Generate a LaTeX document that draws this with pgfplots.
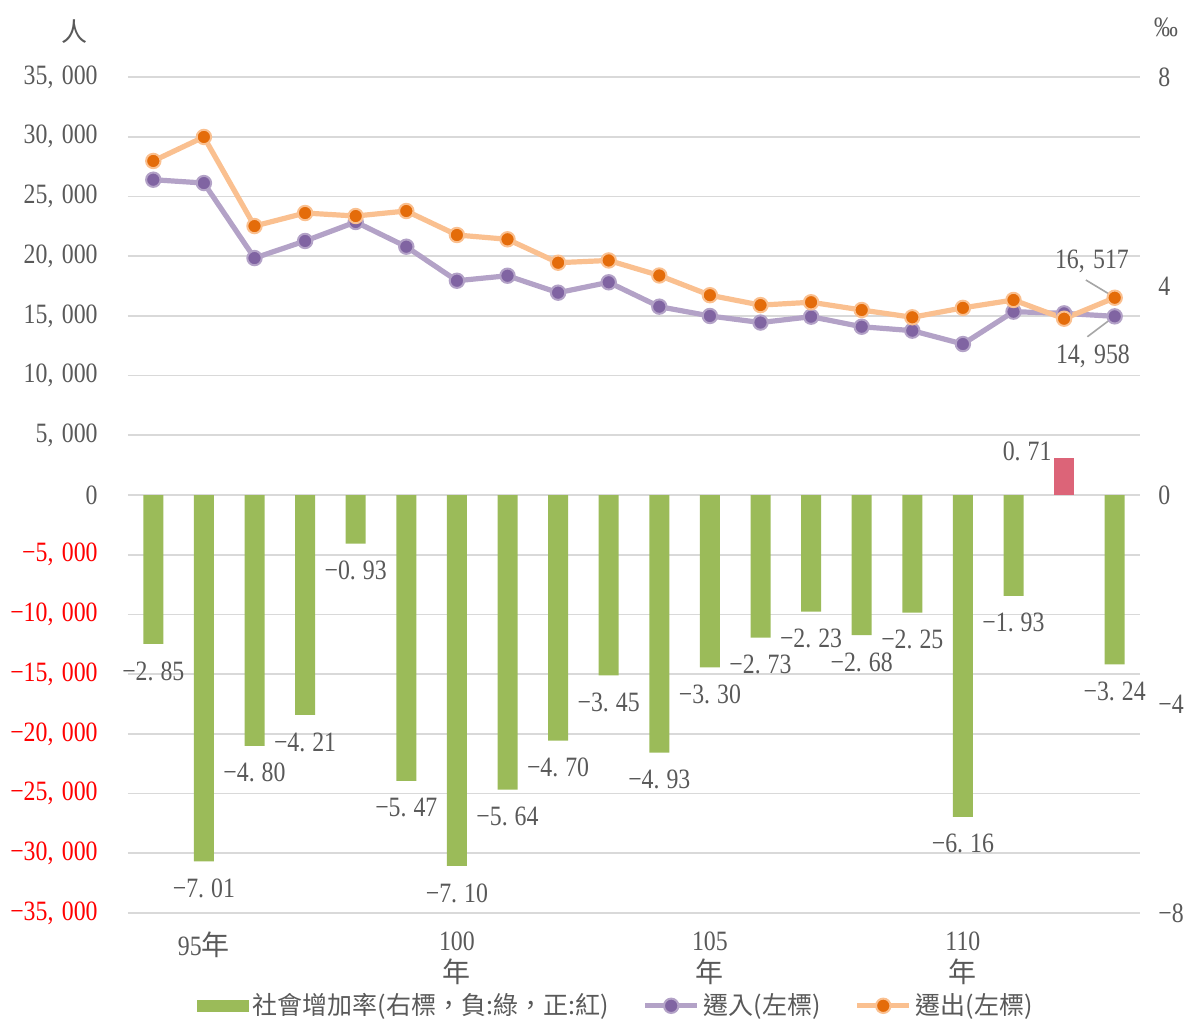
\documentclass[border=0pt]{standalone}
\usepackage{fontspec}
\setmainfont{Liberation Serif}[FakeStretch=0.85]
\newfontfamily\cjk{Noto Sans CJK TC}
\usepackage{pgfplots}
\pgfplotsset{compat=1.18}

\definecolor{txt}{HTML}{595959}
\definecolor{gridc}{HTML}{D9D9D9}
\definecolor{barg}{HTML}{9BBB59}
\definecolor{barr}{HTML}{DC6478}
\definecolor{inl}{HTML}{B3A2C7}
\definecolor{inm}{HTML}{8064A2}
\definecolor{outl}{HTML}{FAC090}
\definecolor{outm}{HTML}{E46C0A}

\newcommand{\thsep}{,\hspace{0.3em}}
\newcommand{\decsep}{.\hspace{0.25em}}
\newcommand{\negred}[1]{\textcolor{red}{−#1}}

\pgfplotsset{
  inflow/.style={color=inl, line width=2.6pt, mark=*, mark size=3.6pt,
    mark options={fill=inm, draw=inl, line width=1pt}},
  outflow/.style={color=outl, line width=2.6pt, mark=*, mark size=3.6pt,
    mark options={fill=outm, draw=outl, line width=1pt}},
  longline/.style={legend image code/.code={%
    \draw[mark repeat=2, mark phase=2, ##1] plot coordinates {(0pt,0pt) (13pt,0pt) (26pt,0pt)};}},
  barbox/.style={legend image code/.code={\fill[barg] (0pt,-3pt) rectangle (26pt,3pt);}},
}

\begin{document}
\begin{tikzpicture}
\useasboundingbox (-64pt,-52.5pt) rectangle (528pt,456.5pt);

% left axis: persons, lines and grid
\begin{axis}[
    scale only axis, width=506pt, height=418pt,
    xmin=93.5, xmax=113.5, ymin=-35000, ymax=35000,
    axis line style={draw=none}, tick style={draw=none},
    scaled y ticks=false,
    ytick={-35000,-30000,-25000,-20000,-15000,-10000,-5000,0,5000,10000,15000,20000,25000,30000,35000},
    yticklabels={\negred{35\thsep000},\negred{30\thsep000},\negred{25\thsep000},\negred{20\thsep000},\negred{15\thsep000},\negred{10\thsep000},\negred{5\thsep000},
      0,5\thsep000,10\thsep000,15\thsep000,20\thsep000,25\thsep000,30\thsep000,35\thsep000},
    yticklabel style={inner sep=0pt, anchor=east, xshift=-15pt, font=\fontsize{14pt}{15pt}\selectfont, text=txt},
    ymajorgrids, grid style={draw=gridc, line width=0.9pt},
    xtick={95,100,105,110},
    xticklabels={{95\cjk{年}},{100\\\cjk{年}},{105\\\cjk{年}},{110\\\cjk{年}}},
    xticklabel style={inner sep=0pt, anchor=north, yshift=-9pt, align=center,
      font=\fontsize{14pt}{16pt}\selectfont, text=txt},
    clip=false,
]
\addplot[inflow] coordinates {
 (94,26400) (95,26120) (96,19840) (97,21270) (98,22860) (99,20790) (100,17940)
 (101,18360) (102,16940) (103,17810) (104,15770) (105,14990) (106,14440) (107,14930)
 (108,14090) (109,13760) (110,12640) (111,15350) (112,15210) (113,14958)};
\addplot[outflow] coordinates {
 (94,27970) (95,29980) (96,22520) (97,23610) (98,23360) (99,23780) (100,21770)
 (101,21410) (102,19450) (103,19640) (104,18380) (105,16730) (106,15900) (107,16140)
 (108,15490) (109,14880) (110,15670) (111,16330) (112,14760) (113,16517)};
\draw[gray!70, line width=0.8pt] (axis cs:112.43,18000) -- (axis cs:112.96,16650);
\draw[gray!70, line width=0.8pt] (axis cs:112.46,13250) -- (axis cs:112.96,14850);
\node[text=txt, font=\fontsize{14pt}{15pt}\selectfont] at (axis cs:112.55,19590) {16\thsep517};
\node[text=txt, font=\fontsize{14pt}{15pt}\selectfont] at (axis cs:112.57,11640) {14\thsep958};
\node[text=txt, font=\cjk\fontsize{13pt}{14pt}\selectfont] at (-26.5pt,440.5pt) {人};
\node[text=txt, font=\fontsize{14pt}{15pt}\selectfont] at (519pt,443pt) {‰};
\end{axis}

% right axis: rate, bars
\begin{axis}[
    scale only axis, width=506pt, height=418pt,
    xmin=93.5, xmax=113.5, ymin=-8, ymax=8,
    axis line style={draw=none}, tick style={draw=none},
    xtick=\empty,
    ytick={-8,-4,0,4,8}, yticklabels={−8,−4,0,4,8},
    yticklabel pos=right,
    yticklabel style={inner sep=0pt, anchor=west, xshift=9pt, font=\fontsize{14pt}{15pt}\selectfont, text=txt},
    clip=false,
    legend columns=3,
    legend style={at={(0.483,-0.111)}, anchor=center, draw=none, fill=none,
      font=\cjk\fontsize{12.5pt}{13pt}\selectfont, text=txt,
      /tikz/every even column/.append style={column sep=15pt},
      cells={anchor=west}},
]
\addplot[ybar, bar width=10pt, bar shift=0pt, fill=barg, draw=none, barbox,
    point meta=explicit symbolic, nodes near coords,
    every node near coord/.append style={anchor=center, yshift=-13.5pt,
      text=txt, font=\fontsize{14pt}{15pt}\selectfont}]
 coordinates {
 (94,-2.85) [−2\decsep85] (95,-7.01) [−7\decsep01] (96,-4.80) [−4\decsep80] (97,-4.21) [−4\decsep21]
 (98,-0.93) [−0\decsep93] (99,-5.47) [−5\decsep47] (100,-7.10) [−7\decsep10] (101,-5.64) [−5\decsep64]
 (102,-4.70) [−4\decsep70] (103,-3.45) [−3\decsep45] (104,-4.93) [−4\decsep93] (105,-3.30) [−3\decsep30]
 (106,-2.73) [−2\decsep73] (107,-2.23) [−2\decsep23] (108,-2.68) [−2\decsep68] (109,-2.25) [−2\decsep25]
 (110,-6.16) [−6\decsep16] (111,-1.93) [−1\decsep93] (113,-3.24) [−3\decsep24]};
\addlegendentry{社會增加率(右標，負:綠，正:紅)}
\addplot[ybar, bar width=10pt, bar shift=0pt, fill=barr, draw=none, forget plot,
    point meta=explicit symbolic, nodes near coords,
    every node near coord/.append style={anchor=center, xshift=-18.5pt, yshift=3.5pt,
      text=txt, font=\fontsize{14pt}{15pt}\selectfont}]
 coordinates {(112,0.71) [0\decsep71]};
\addlegendimage{inflow, longline}
\addlegendentry{遷入(左標)}
\addlegendimage{outflow, longline}
\addlegendentry{遷出(左標)}
\end{axis}
\end{tikzpicture}
\end{document}
